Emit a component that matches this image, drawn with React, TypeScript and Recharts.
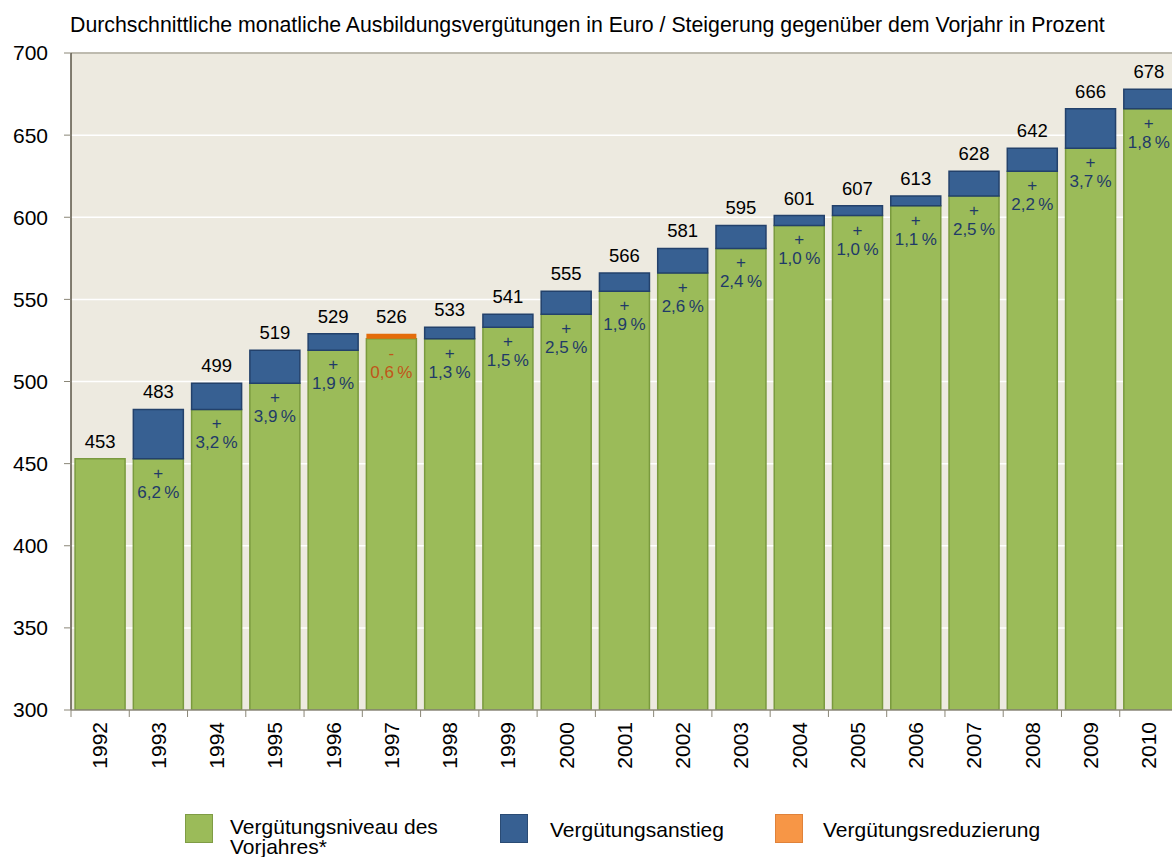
import { BarChart, Bar, XAxis, YAxis, CartesianGrid, ReferenceLine, LabelList } from 'recharts'

const years = ['1992', '1993', '1994', '1995', '1996', '1997', '1998', '1999', '2000', '2001', '2002', '2003', '2004', '2005', '2006', '2007', '2008', '2009', '2010']
const levels = [453, 483, 499, 519, 529, 526, 533, 541, 555, 566, 581, 595, 601, 607, 613, 628, 642, 666, 678]
const changePct = [null, 6.2, 3.2, 3.9, 1.9, -0.6, 1.3, 1.5, 2.5, 1.9, 2.6, 2.4, 1.0, 1.0, 1.1, 2.5, 2.2, 3.7, 1.8]
const yTicks = [300, 350, 400, 450, 500, 550, 600, 650, 700]
const yDomain = [300, 700]

const GREEN = '#9BBB59'
const BLUE = '#376092'
const ORANGE = '#E46C0A'
const BAND = 58.25

const data = years.map((year, i) => {
  const prev = i === 0 ? levels[0] : levels[i - 1]
  const cur = levels[i]
  return {
    year,
    base: Math.min(prev, cur),
    rise: Math.max(0, cur - prev),
    drop: Math.max(0, prev - cur),
    total: cur,
    pct: changePct[i],
  }
})

// draws the total above the stack and the +/- percent inside the green bar
function BarLabels(props: any) {
  const { x, y, width, height, index } = props
  const row = data[index]
  if (!row) return null
  const cx = x + width / 2
  // green rect is clipped at the axis floor, so its height covers base - yDomain[0]
  const pxPerUnit = height / (row.base - yDomain[0])
  const topY = y - (row.rise + row.drop) * pxPerUnit
  const p = row.pct
  const neg = p !== null && p < 0
  const color = neg ? '#C0561A' : '#1F3A68'
  return (
    <g>
      <text x={cx} y={topY - 11} textAnchor="middle" fill="#000" fontSize={18.5}>{row.total}</text>
      {p !== null && (
        <>
          <text x={cx} y={y + 20} textAnchor="middle" fill={color} fontSize={17}>{neg ? '-' : '+'}</text>
          <text x={cx} y={y + 39} textAnchor="middle" fill={color} fontSize={17}>
            {Math.abs(p).toFixed(1).replace('.', ',') + '\u2009%'}
          </text>
        </>
      )}
    </g>
  )
}

function YearTick({ x, y, payload }: any) {
  return (
    <g>
      <line x1={x - BAND / 2} x2={x - BAND / 2} y1={y - 12} y2={y - 5} stroke="#8a8677" />
      <text x={x} y={y} dy="0.35em" textAnchor="end" fontSize={21} fill="#000" transform={`rotate(-90 ${x} ${y})`}>
        {payload.value}
      </text>
    </g>
  )
}

const legendItems = [
  { label: ['Vergütungsniveau des', 'Vorjahres*'], color: GREEN, border: '#7f9c45', left: 185, textLeft: 230 },
  { label: ['Vergütungsanstieg'], color: BLUE, border: '#2a4b74', left: 500, textLeft: 550 },
  { label: ['Vergütungsreduzierung'], color: '#F79646', border: '#e0823a', left: 775, textLeft: 823 },
]

export default function App() {
  return (
    <div style={{ position: 'relative', width: 1172, height: 857, overflow: 'hidden', fontFamily: '"Liberation Sans", Arial, sans-serif', background: '#fff' }}>
      <style>{'body{margin:0;overflow:hidden}'}</style>
      <div style={{ position: 'absolute', left: 70, top: 13, fontSize: 21.3, color: '#000', whiteSpace: 'nowrap' }}>
        Durchschnittliche monatliche Ausbildungsvergütungen in Euro / Steigerung gegenüber dem Vorjahr in Prozent
      </div>
      <BarChart width={1178} height={857} data={data} margin={{ top: 53, right: 0, bottom: 57, left: 0 }} barCategoryGap="7%">
        <CartesianGrid horizontal vertical={false} stroke="#ffffff" strokeWidth={1.5} fill="#EDEAE0" />
        <ReferenceLine y={700} stroke="#a8a596" strokeWidth={1.5} />
        <YAxis
          domain={yDomain}
          ticks={yTicks}
          allowDataOverflow
          width={71}
          tickSize={7}
          tickMargin={16}
          tick={{ fontSize: 21, fill: '#000' }}
          axisLine={{ stroke: '#5a5546', strokeWidth: 1.5 }}
          tickLine={{ stroke: '#8a8677' }}
        />
        <XAxis
          dataKey="year"
          height={90}
          tickSize={7}
          tickMargin={5}
          tickLine={false}
          interval={0}
          tick={<YearTick />}
          axisLine={{ stroke: '#8a8677', strokeWidth: 1.5 }}
        />
        <Bar dataKey="base" stackId="a" fill={GREEN} stroke="#7a9a3e" strokeWidth={1.5} isAnimationActive={false}>
          <LabelList dataKey="pct" content={<BarLabels />} />
        </Bar>
        <Bar dataKey="rise" stackId="a" fill={BLUE} stroke="#23416b" strokeWidth={1.5} isAnimationActive={false} />
        <Bar dataKey="drop" stackId="a" fill={ORANGE} isAnimationActive={false} />
      </BarChart>
      {legendItems.map((item) => (
        <div key={item.left}>
          <div style={{ position: 'absolute', left: item.left, top: 814, width: 26, height: 27, background: item.color, border: `1.5px solid ${item.border}` }} />
          <div style={{ position: 'absolute', left: item.textLeft, top: item.label.length > 1 ? 817 : 820, fontSize: 21, lineHeight: '20px', color: '#000', whiteSpace: 'nowrap' }}>
            {item.label.map((l) => (
              <div key={l}>{l}</div>
            ))}
          </div>
        </div>
      ))}
    </div>
  )
}
